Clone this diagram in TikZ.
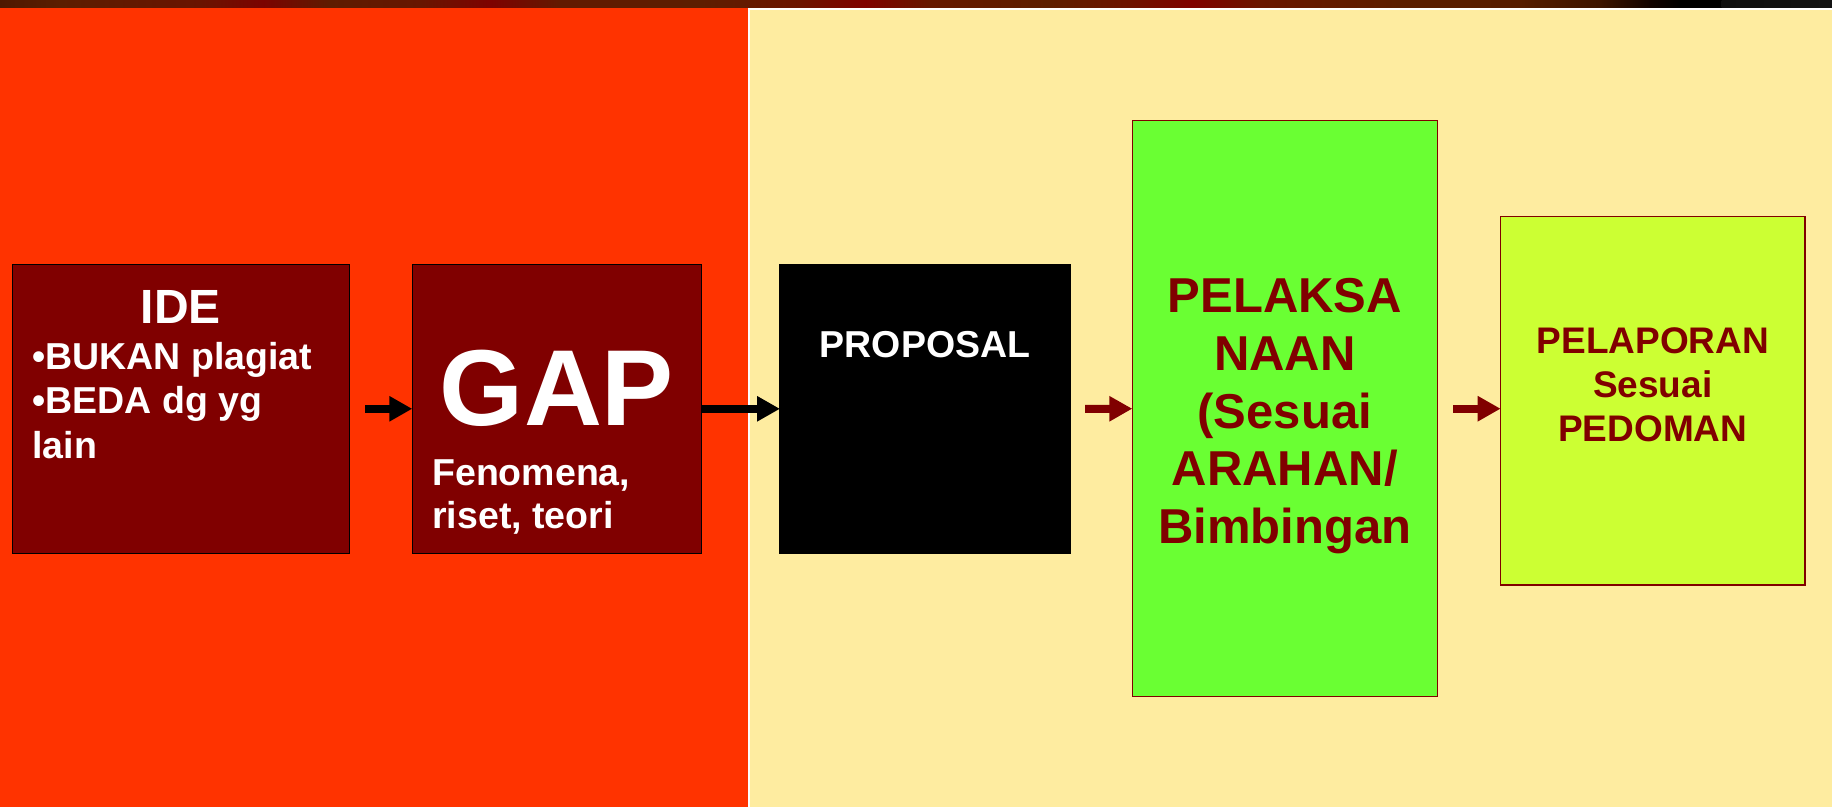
\documentclass[tikz,border=0pt]{standalone}
\usepackage{fontspec}
\setmainfont{Liberation Sans}
\usetikzlibrary{arrows.meta}
\definecolor{redbg}{HTML}{FF3300}
\definecolor{yellowbg}{HTML}{FEECA0}
\definecolor{darkred}{HTML}{800000}
\definecolor{greenbox}{HTML}{6AFF33}
\definecolor{limebox}{HTML}{CCFF33}
\begin{document}
\begin{tikzpicture}[x=1pt,y=-1pt,
  box/.style={rectangle, inner sep=0pt, outer sep=0pt, line width=1.3pt},
  txt/.style={inner sep=0pt, outer sep=0pt},
  fA/.style={font=\fontsize{37.5}{44}\selectfont\bfseries},
  fIde/.style={font=\fontsize{48}{56}\selectfont\bfseries},
  fGap/.style={font=\fontsize{108}{120}\selectfont\bfseries},
  fProp/.style={font=\fontsize{37.5}{44}\selectfont\bfseries},
  fPel/.style={font=\fontsize{49}{58}\selectfont\bfseries},
  fLap/.style={font=\fontsize{37}{44}\selectfont\bfseries},
  flow/.style={line width=8pt, -{Triangle[length=23pt,width=24pt]}}
]
\useasboundingbox (0,0) rectangle (1832,807);
% backgrounds
\fill[redbg] (0,6.8) rectangle (748.3,807);
\fill[white] (748.3,7.5) rectangle (1832,807);
\fill[yellowbg] (750,10) rectangle (1832,807);
% top strip
\foreach \xa/\ca/\xb/\cb in {
  0/4E1800/60/5C1E00,
  60/5C1E00/200/6A1400,
  200/6A1400/263/7C0300,
  263/7C0300/330/5E1C00,
  330/5E1C00/420/681600,
  420/681600/491/7E0200,
  491/7E0200/560/621A00,
  560/621A00/700/5E1E00,
  700/5E1E00/800/6C1400,
  800/6C1400/865/800000,
  865/800000/930/661800,
  930/661800/1050/5E1E00,
  1050/5E1E00/1130/6E1200,
  1130/6E1200/1192/800000,
  1192/800000/1260/6A1600,
  1260/6A1600/1400/5C1E00,
  1400/5C1E00/1520/561C00,
  1520/561C00/1600/3C1400,
  1600/3C1400/1650/120200,
  1650/120200/1680/000000,
  1680/000000/1722/000000,
  1722/0E0E0E/1832/121212}{
  \definecolor{sa}{HTML}{\ca}\definecolor{sb}{HTML}{\cb}
  \shade[left color=sa, right color=sb] (\xa-0.3,0) rectangle (\xb+0.3,7.5);
}
% boxes
\node[box, draw=black, fill=darkred, minimum width=337pt, minimum height=289pt] (ide) at (180.8,408.8) {};
\node[box, draw=black, fill=darkred, minimum width=289.4pt, minimum height=289pt] (gap) at (557,408.8) {};
\node[box, draw=black, fill=black, minimum width=290pt, minimum height=289pt] (prop) at (925,408.8) {};
\node[box, draw=darkred, fill=greenbox, minimum width=305pt, minimum height=576pt] (pel) at (1284.8,408.7) {};
\node[box, draw=darkred, fill=limebox, minimum width=304.3pt, minimum height=368.3pt] (lapor) at (1652.8,400.8) {};
% texts IDE
\node[txt, fIde, text=white, anchor=base] (ideT) at (180.8,323) {IDE};
\node[txt, fA, text=white, anchor=base west] (ideB1) at (32.5,369.3) {•BUKAN plagiat};
\node[txt, fA, text=white, anchor=base west] (ideB2) at (32.5,413.3) {•BEDA dg yg};
\node[txt, fA, text=white, anchor=base west] (ideB3) at (32.5,458.3) {lain};
% GAP
\node[txt, fGap, text=white, anchor=base] (gapT) at (557,425.7) {GAP};
\node[txt, fA, text=white, anchor=base west] (gapF1) at (432.3,485) {Fenomena,};
\node[txt, fA, text=white, anchor=base west] (gapF2) at (432.3,528) {riset, teori};
% PROPOSAL
\node[txt, fProp, text=white, anchor=base] (propT) at (925,357.3) {PROPOSAL};
% PELAKSANAAN
\node[txt, fPel, text=darkred, anchor=base] (pel1) at (1284.8,312.3) {PELAKSA};
\node[txt, fPel, text=darkred, anchor=base] (pel2) at (1284.8,370.7) {NAAN};
\node[txt, fPel, text=darkred, anchor=base] (pel3) at (1284.8,428.3) {(Sesuai};
\node[txt, fPel, text=darkred, anchor=base] (pel4) at (1284.8,485) {ARAHAN/};
\node[txt, fPel, text=darkred, anchor=base] (pel5) at (1284.8,543.3) {Bimbingan};
% PELAPORAN
\node[txt, fLap, text=darkred, anchor=base] (lap1) at (1652.8,353.3) {PELAPORAN};
\node[txt, fLap, text=darkred, anchor=base] (lap2) at (1652.8,397.3) {Sesuai};
\node[txt, fLap, text=darkred, anchor=base] (lap3) at (1652.8,441.7) {PEDOMAN};
% arrows
\draw[flow, black] ([xshift=16pt]ide.east) -- (gap.west);
\draw[flow, black] (gap.east) -- (prop.west);
\draw[flow, darkred] ([xshift=15pt]prop.east) -- (pel.west);
\draw[flow, darkred] ([xshift=16pt]pel.east) -- (pel.east -| lapor.west);
\end{tikzpicture}
\end{document}
